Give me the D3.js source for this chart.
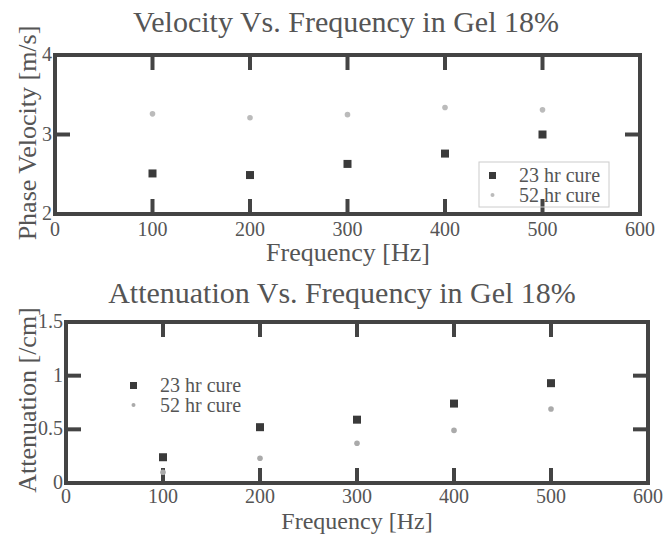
<!DOCTYPE html>
<html>
    <head>
        <script src="https://d3js.org/d3.v7.min.js"></script>
        <style>
            body { margin: 0; background: #fff; }
            text { font-family: "Liberation Serif", "Times New Roman", serif; fill: #555; }
        </style>
    </head>
    <body>
        <div id="area1"></div>
        <script>
            // frequencies shared by both panels
            var freqs = [100, 200, 300, 400, 500];
            var xTicks = [0, 100, 200, 300, 400, 500, 600];

            // velocity panel (m/s)
            var vel23 = [2.51, 2.49, 2.63, 2.76, 3.00];
            var vel52 = [3.26, 3.21, 3.25, 3.34, 3.31];
            var velTicks = [2, 3, 4];

            // attenuation panel (/cm)
            var att23 = [0.24, 0.52, 0.59, 0.74, 0.93];
            var att52 = [0.10, 0.23, 0.37, 0.49, 0.69];
            var attTicks = [0, 0.5, 1, 1.5];

            var seriesNames = ["23 hr cure", "52 hr cure"];

            var W = 669, H = 534;
            var svg = d3.select('#area1').append('svg').attr('width', W).attr('height', H);

            function panel(opt) {
                var x = d3.scaleLinear().domain([0, 600]).range([opt.left, opt.right]);
                var y = d3.scaleLinear().domain(opt.ydomain).range([opt.bottom, opt.top]);
                var g = svg.append('g');

                // inward ticks at interior values, on all four sides
                var inner = function(a) { return a.slice(1, a.length - 1); };
                var tk = 15;
                g.selectAll('.xt').data(inner(xTicks)).enter().append('line')
                    .attr('x1', function(d) { return x(d); }).attr('x2', function(d) { return x(d); })
                    .attr('y1', opt.bottom).attr('y2', opt.bottom - tk)
                    .attr('stroke', '#444').attr('stroke-width', 4);
                g.selectAll('.xt2').data(inner(xTicks)).enter().append('line')
                    .attr('x1', function(d) { return x(d); }).attr('x2', function(d) { return x(d); })
                    .attr('y1', opt.top).attr('y2', opt.top + tk)
                    .attr('stroke', '#444').attr('stroke-width', 4);
                g.selectAll('.yt').data(inner(opt.yticks)).enter().append('line')
                    .attr('x1', opt.left).attr('x2', opt.left + tk)
                    .attr('y1', function(d) { return y(d); }).attr('y2', function(d) { return y(d); })
                    .attr('stroke', '#444').attr('stroke-width', 4);
                g.selectAll('.yt2').data(inner(opt.yticks)).enter().append('line')
                    .attr('x1', opt.right).attr('x2', opt.right - tk)
                    .attr('y1', function(d) { return y(d); }).attr('y2', function(d) { return y(d); })
                    .attr('stroke', '#444').attr('stroke-width', 4);

                // frame
                g.append('rect').attr('x', opt.left).attr('y', opt.top)
                    .attr('width', opt.right - opt.left).attr('height', opt.bottom - opt.top)
                    .attr('fill', 'none').attr('stroke', '#444').attr('stroke-width', 4);

                // tick labels
                g.selectAll('.xl').data(xTicks).enter().append('text')
                    .attr('x', function(d) { return x(d); })
                    .attr('y', opt.bottom + opt.xtDy)
                    .attr('text-anchor', 'middle').style('font-size', '20px')
                    .text(function(d) { return d; });
                g.selectAll('.yl').data(opt.yticks).enter().append('text')
                    .attr('x', opt.left - 3).attr('y', function(d) { return y(d) + 6; })
                    .attr('text-anchor', 'end').style('font-size', '20px')
                    .text(function(d) { return d; });

                // titles
                g.append('text').attr('x', opt.titleX).attr('y', opt.titleY)
                    .attr('text-anchor', 'middle').style('font-size', '30px').text(opt.title);
                g.append('text').attr('x', opt.xlabX).attr('y', opt.bottom + opt.xlabDy)
                    .attr('text-anchor', 'middle').style('font-size', opt.xlabSize).text('Frequency [Hz]');
                g.append('text')
                    .attr('transform', 'translate(' + opt.ylabX + ',' + opt.ylabY + ') rotate(-90)')
                    .attr('text-anchor', 'middle').style('font-size', '26px').text(opt.ylabel);

                // points
                g.selectAll('.s52').data(freqs).enter().append('circle')
                    .attr('cx', function(d) { return x(d); })
                    .attr('cy', function(d, i) { return y(opt.s52[i]); })
                    .attr('r', 2.8).attr('fill', opt.lightColor);
                g.selectAll('.s23').data(freqs).enter().append('rect')
                    .attr('x', function(d) { return x(d) - 4; })
                    .attr('y', function(d, i) { return y(opt.s23[i]) - 4; })
                    .attr('width', 8).attr('height', 8).attr('fill', '#3a3a3a');

                // legend
                var lg = g.append('g').attr('transform', 'translate(' + opt.legX + ',' + opt.legY + ')');
                if (opt.legBox) {
                    lg.append('rect').attr('x', 0).attr('y', 0).attr('width', 130).attr('height', 45)
                        .attr('fill', 'none').attr('stroke', '#ccc').attr('stroke-width', 1);
                }
                lg.append('rect').attr('x', 10).attr('y', 10).attr('width', 7).attr('height', 7).attr('fill', '#3a3a3a');
                lg.append('circle').attr('cx', 13.5).attr('cy', 33).attr('r', 2).attr('fill', opt.lightColor);
                lg.selectAll('.lt').data(seriesNames).enter().append('text')
                    .attr('x', 40).attr('y', function(d, i) { return 20 + i * 20; })
                    .style('font-size', '20px').text(function(d) { return d; });
            }

            panel({
                left: 55, right: 640, top: 55, bottom: 214,
                ydomain: [2, 4], yticks: velTicks,
                s23: vel23, s52: vel52, lightColor: '#bbb',
                title: 'Velocity Vs. Frequency in Gel 18%', titleX: 346, titleY: 32,
                xtDy: 22, xlabX: 348, xlabDy: 47, xlabSize: '26px',
                ylabel: 'Phase Velocity [m/s]', ylabX: 36, ylabY: 133,
                legX: 479, legY: 162, legBox: true
            });
            panel({
                left: 66, right: 648, top: 322, bottom: 483,
                ydomain: [0, 1.5], yticks: attTicks,
                s23: att23, s52: att52, lightColor: '#aaa',
                title: 'Attenuation Vs. Frequency in Gel 18%', titleX: 342, titleY: 303,
                xtDy: 20, xlabX: 357, xlabDy: 46, xlabSize: '24px',
                ylabel: 'Attenuation [/cm]', ylabX: 36, ylabY: 400,
                legX: 120, legY: 372, legBox: false
            });
        </script>
    </body>
</html>
